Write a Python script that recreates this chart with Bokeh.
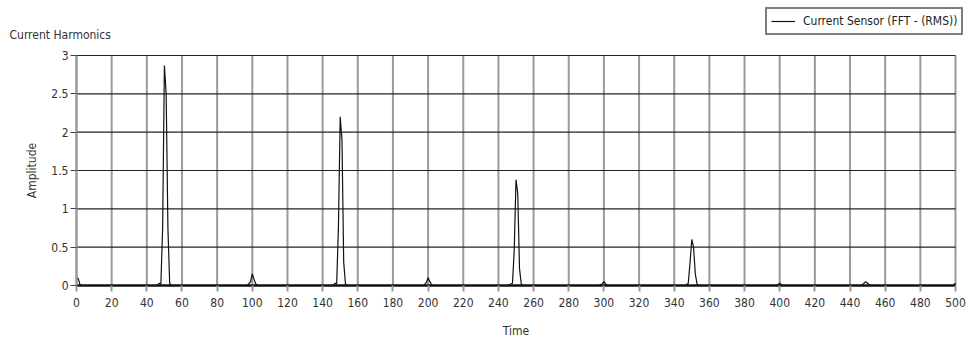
from bokeh.plotting import figure
from bokeh.models import FixedTicker, Range1d, Legend, LegendItem, Label
from bokeh.embed import file_html
from bokeh.resources import INLINE

# ---- data ----
time = [0, 1, 2, 3,
        46, 47, 48, 49, 50, 51, 52, 53, 54,
        97, 98, 99, 100, 101, 102, 103,
        146, 147, 148, 149, 150, 151, 152, 153, 154,
        197, 198, 199, 200, 201, 202, 203,
        246, 247, 248, 249, 250, 251, 252, 253, 254,
        297, 298, 299, 300, 301, 302, 303,
        346, 347, 348, 349, 350, 351, 352, 353, 354,
        397, 398, 399, 400, 401, 402, 403,
        446, 447, 448, 449, 450, 451, 452, 453,
        497, 498, 499, 500]
amplitude = [0.10, 0.09, 0.01, 0.0,
             0.0, 0.03, 0.02, 0.75, 2.87, 2.50, 0.75, 0.03, 0.0,
             0.0, 0.02, 0.05, 0.15, 0.08, 0.02, 0.0,
             0.0, 0.03, 0.02, 0.77, 2.20, 1.90, 0.30, 0.02, 0.0,
             0.0, 0.01, 0.04, 0.10, 0.05, 0.01, 0.0,
             0.0, 0.02, 0.03, 0.46, 1.38, 1.20, 0.22, 0.02, 0.0,
             0.0, 0.01, 0.02, 0.05, 0.02, 0.0, 0.0,
             0.0, 0.01, 0.03, 0.30, 0.60, 0.50, 0.15, 0.02, 0.0,
             0.0, 0.0, 0.01, 0.03, 0.01, 0.0, 0.0,
             0.0, 0.01, 0.03, 0.05, 0.03, 0.01, 0.0, 0.0,
             0.0, 0.0, 0.01, 0.03]

x_ticks = list(range(0, 501, 20))
y_ticks = [0, 0.5, 1, 1.5, 2, 2.5, 3]
y_tick_labels = ["0", "0.5", "1", "1.5", "2", "2.5", "3"]
x_bounds = (0, 500)
y_bounds = (0, 3)

title_text = "Current Harmonics"
series_name = "Current Sensor (FFT - (RMS))"
x_label = "Time"
y_label = "Amplitude"

FONT = "DejaVu Sans Condensed"
W, H = 967, 340
# plot-area placement in pixels
L, R, T, B = 76, 955, 55, 285
xs = (R - L) / (x_bounds[1] - x_bounds[0])
ys = (B - T) / (y_bounds[1] - y_bounds[0])

p = figure(width=W, height=H, output_backend="svg", toolbar_location=None,
           x_range=Range1d(x_bounds[0] - L / xs, x_bounds[1] + (W - R) / xs),
           y_range=Range1d(y_bounds[0] - (H - B) / ys, y_bounds[1] + T / ys),
           min_border=0, min_border_left=0, min_border_right=0,
           min_border_top=0, min_border_bottom=0)
p.background_fill_color = "white"
p.border_fill_color = "white"
p.outline_line_color = None
p.xgrid.visible = False
p.ygrid.visible = False

# grid lines restricted to the plot area
p.segment(x0=x_ticks, y0=y_bounds[0], x1=x_ticks, y1=y_bounds[1],
          line_color="#9a9a9a", line_width=2)
p.segment(x0=x_bounds[0], y0=y_ticks, x1=x_bounds[1], y1=y_ticks,
          line_color="#222222", line_width=1.2)

# axes pinned at the data origin
p.xaxis.fixed_location = 0
p.yaxis.fixed_location = 0
p.xaxis.bounds = x_bounds
p.yaxis.bounds = y_bounds
p.xaxis.ticker = FixedTicker(ticks=x_ticks)
p.yaxis.ticker = FixedTicker(ticks=y_ticks)
p.yaxis.major_label_overrides = {t: l for t, l in zip(y_ticks, y_tick_labels)}
for ax in (p.xaxis[0], p.yaxis[0]):
    ax.major_label_text_font = FONT
    ax.major_label_text_font_size = "12px"
    ax.major_label_text_color = "#333333"
    ax.axis_label_text_font = FONT
    ax.axis_label_text_font_size = "12px"
    ax.axis_label_text_font_style = "normal"
    ax.axis_label_text_color = "#333333"
    ax.minor_tick_line_color = None
    ax.major_tick_in = 0
    ax.major_tick_out = 6
p.xaxis.axis_label = x_label
p.yaxis.axis_label = y_label
p.xaxis.major_label_standoff = 6
p.yaxis.major_label_standoff = 2
p.xaxis.major_tick_line_color = "#9a9a9a"
p.xaxis.major_tick_line_width = 2
p.xaxis.axis_line_color = "#111111"
p.xaxis.axis_line_width = 2.5
p.xaxis.axis_label_standoff = 14
p.yaxis.major_tick_line_color = "#444444"
p.yaxis.major_tick_line_width = 1.2
p.yaxis.axis_line_color = "#9a9a9a"
p.yaxis.axis_line_width = 2
p.yaxis.axis_label_standoff = 9

r = p.line(time, amplitude, line_color="#111111", line_width=1.2)

legend = Legend(items=[LegendItem(label=series_name, renderers=[r])],
                location=(765, H - 35), orientation="horizontal")
legend.label_text_font = FONT
legend.label_text_font_size = "12px"
legend.label_text_color = "#222222"
legend.label_height = 16
legend.glyph_height = 16
legend.border_line_color = "black"
legend.border_line_width = 2
legend.background_fill_color = "white"
legend.background_fill_alpha = 1
legend.padding = 4
legend.margin = 0
legend.glyph_width = 24
legend.label_standoff = 8
p.add_layout(legend, "center")

p.add_layout(Label(x=9, y=H - 34, x_units="screen", y_units="screen", text=title_text,
                   text_font=FONT, text_font_size="12px", text_color="#333333",
                   text_baseline="alphabetic"))

open("out.html", "w").write(file_html(p, INLINE))
